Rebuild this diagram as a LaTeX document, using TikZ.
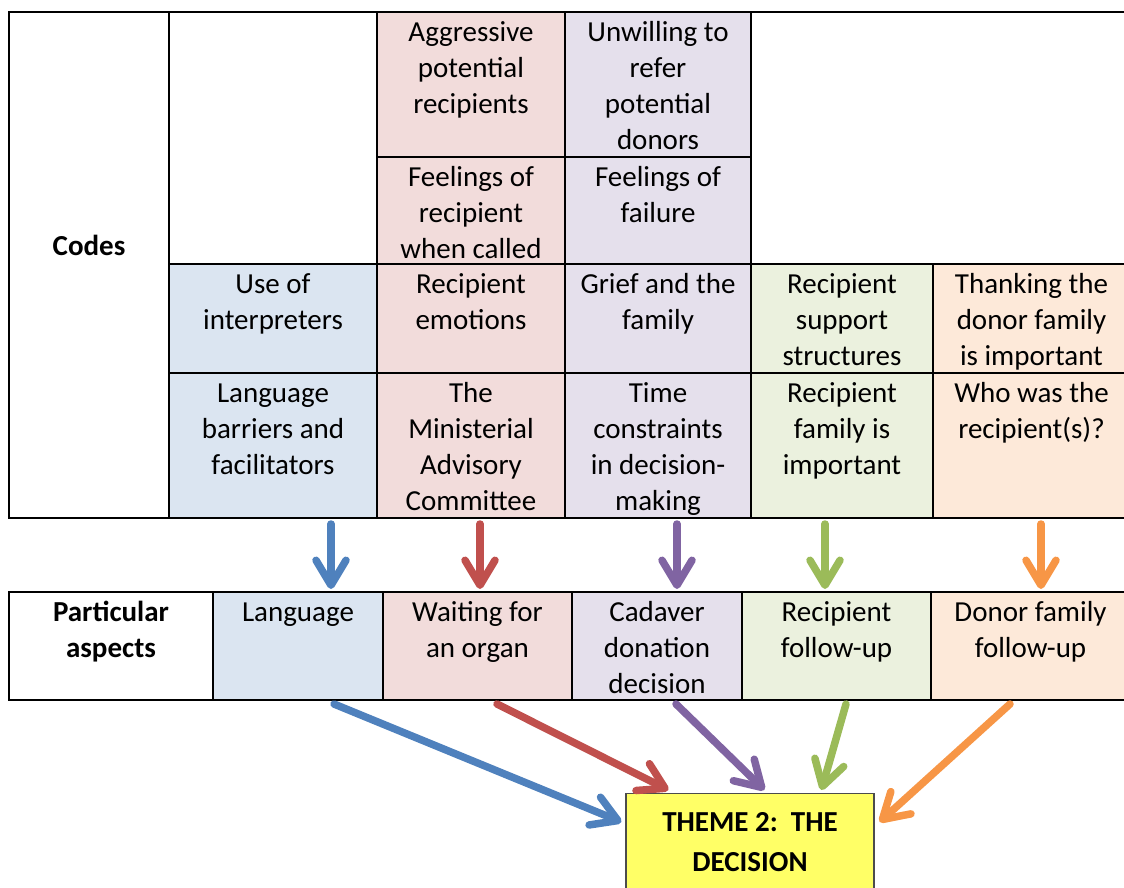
\documentclass[tikz,border=0pt]{standalone}
\usepackage{fontspec}
\setmainfont{Carlito}
\usetikzlibrary{arrows.meta,calc}

\definecolor{blueA}{HTML}{4F81BD}
\definecolor{redA}{HTML}{C0504D}
\definecolor{purpA}{HTML}{8064A2}
\definecolor{greenA}{HTML}{9BBB59}
\definecolor{orangeA}{HTML}{F79646}
\definecolor{blueF}{HTML}{DBE5F1}
\definecolor{redF}{HTML}{F2DCDB}
\definecolor{purpF}{HTML}{E5E0EC}
\definecolor{greenF}{HTML}{EBF1DE}
\definecolor{orangeF}{HTML}{FDE9D9}
\definecolor{themeY}{HTML}{FFFF66}

\tikzset{
  cellbox/.style={draw=black, line width=2.4pt, inner sep=0pt, outer sep=0pt},
  celltext/.style={anchor=north, align=center, inner xsep=0pt, inner ysep=4pt,
    font=\fontsize{29}{36}\selectfont},
  headtext/.style={celltext, font=\fontsize{29}{36}\selectfont\bfseries},
  flow/.style={line width=7.5pt, draw=#1, line cap=round,
    -{Straight Barb[length=25pt, width=30pt, round]}},
}

% one table cell: name, x1, y1, x2, y2, fill, text (top aligned)
\newcommand\tabcell[7]{%
  \node[cellbox, fill=#6, minimum width={#4-#2}, minimum height={#5-#3},
        anchor=north west] (#1) at (#2,#3) {};
  \node[celltext] (#1-t) at (#1.north) {\strut #7};}

\begin{document}
\begin{tikzpicture}[x=1pt, y=-1pt]
\useasboundingbox (0,0) rectangle (1124,888);

% ---- codes table ----
\node[cellbox, fill=white, minimum width=160, minimum height=506,
      anchor=north west] (codes) at (9,12) {};
\node[anchor=base, font=\fontsize{29}{36}\selectfont\bfseries] (codes-t) at (89,255) {Codes};

\tabcell{blank1}{169}{12}{377}{264}{white}{}
\tabcell{blank2}{751}{12}{1130}{264}{white}{}

\tabcell{c11}{377}{12}{565}{157}{redF}{Aggressive\\potential\\recipients}
\tabcell{c12}{565}{12}{751}{157}{purpF}{Unwilling to\\refer\\potential\\donors}

\tabcell{c21}{377}{157}{565}{264}{redF}{Feelings of\\recipient\\when called}
\tabcell{c22}{565}{157}{751}{264}{purpF}{Feelings of\\failure}

\tabcell{c30}{169}{264}{377}{373}{blueF}{Use of\\interpreters}
\tabcell{c31}{377}{264}{565}{373}{redF}{Recipient\\emotions}
\tabcell{c32}{565}{264}{751}{373}{purpF}{Grief and the\\family}
\tabcell{c33}{751}{264}{933}{373}{greenF}{Recipient\\support\\structures}
\tabcell{c34}{933}{264}{1130}{373}{orangeF}{Thanking the\\donor family\\is important}

\tabcell{c40}{169}{373}{377}{518}{blueF}{Language\\barriers and\\facilitators}
\tabcell{c41}{377}{373}{565}{518}{redF}{The\\Ministerial\\Advisory\\Committee}
\tabcell{c42}{565}{373}{751}{518}{purpF}{Time\\constraints\\in decision-\\making}
\tabcell{c43}{751}{373}{933}{518}{greenF}{Recipient\\family is\\important}
\tabcell{c44}{933}{373}{1130}{518}{orangeF}{Who was the\\recipient(s)?}

% ---- particular aspects table ----
\node[cellbox, fill=white, minimum width=204, minimum height=108,
      anchor=north west] (asp) at (9,592) {};
\node[headtext] (asp-t) at (asp.north) {\strut Particular\\aspects};
\tabcell{p0}{213}{592}{383}{700}{blueF}{Language}
\tabcell{p1}{383}{592}{572}{700}{redF}{Waiting for\\an organ}
\tabcell{p2}{572}{592}{742}{700}{purpF}{Cadaver\\donation\\decision}
\tabcell{p3}{742}{592}{931}{700}{greenF}{Recipient\\follow-up}
\tabcell{p4}{931}{592}{1130}{700}{orangeF}{Donor family\\follow-up}

% ---- theme box ----
\node[draw=black!70, line width=1.2pt, fill=themeY, minimum width=248,
      minimum height=110, anchor=north, inner sep=0pt] (theme) at (750,793) {};
\node[anchor=north, align=center, inner sep=0pt,
      font=\fontsize{29}{40}\selectfont\bfseries] (theme-t) at ([yshift=-10]theme.north)
      {\strut THEME 2:\ \ THE\\DECISION};

% ---- arrows from codes to aspects ----
\coordinate (d0) at (331,524);
\coordinate (d1) at (480,524);
\coordinate (d2) at (677,524);
\coordinate (d3) at (825,524);
\coordinate (d4) at (1041,524);
\draw[flow=blueA]   (d0) -- ([yshift=3]d0 |- p0.north);
\draw[flow=redA]    (d1) -- ([yshift=3]d1 |- p1.north);
\draw[flow=purpA]   (d2) -- ([yshift=3]d2 |- p2.north);
\draw[flow=greenA]  (d3) -- ([yshift=3]d3 |- p3.north);
\draw[flow=orangeA] (d4) -- ([yshift=3]d4 |- p4.north);

% ---- arrows from aspects to the theme ----
\coordinate (e0) at (334,704);
\coordinate (e1) at (497,704);
\coordinate (e2) at (676,704);
\coordinate (e3) at (846,704);
\coordinate (e4) at (1010,704);
\coordinate (t0) at ($(theme.north west)+(-4,29)$);
\coordinate (t1) at ($(theme.north west)+(43,-3)$);
\coordinate (t2) at ($(theme.north west)+(139,-3)$);
\coordinate (t3) at ($(theme.north west)+(196,-3)$);
\coordinate (t4) at ($(theme.north east)+(5,29)$);
\draw[flow=blueA]   (e0) -- (t0);
\draw[flow=redA]    (e1) -- (t1);
\draw[flow=purpA]   (e2) -- (t2);
\draw[flow=greenA]  (e3) -- (t3);
\draw[flow=orangeA] (e4) -- (t4);
\end{tikzpicture}
\end{document}
